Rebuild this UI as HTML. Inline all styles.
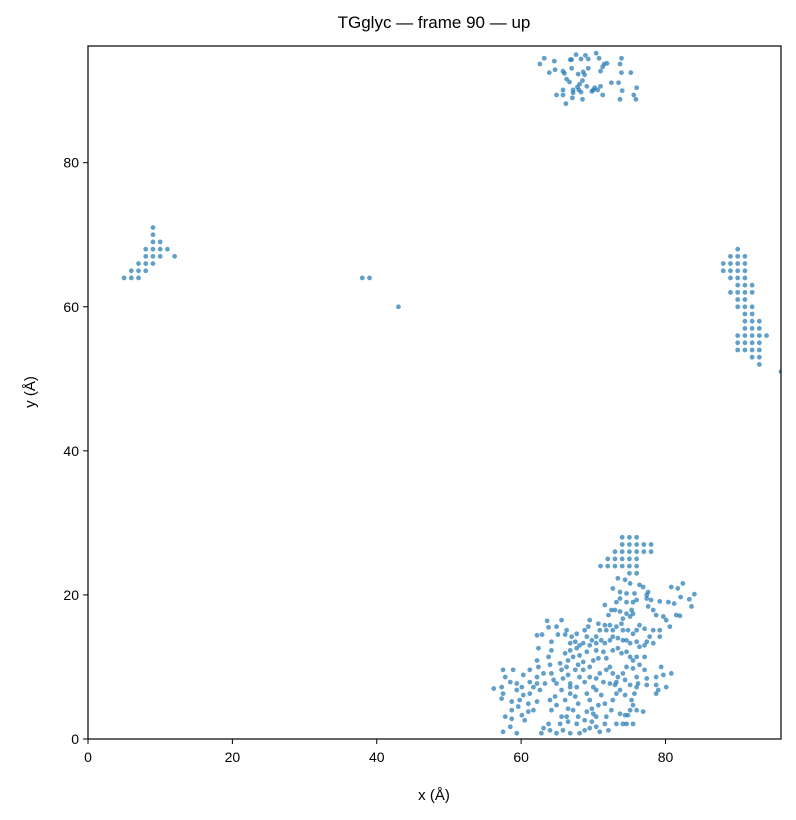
<!DOCTYPE html>
<html><head><meta charset="utf-8"><style>
body{margin:0;background:#fff;}
svg{display:block;font-family:"Liberation Sans","DejaVu Sans",sans-serif;}
</style></head><body>
<svg id="chart" width="796" height="820" xmlns="http://www.w3.org/2000/svg">
<rect width="796" height="820" fill="#fff"/>
<text x="434" y="28" font-size="17" text-anchor="middle">TGglyc — frame 90 — up</text>
<text x="434" y="800" font-size="15" text-anchor="middle">x (Å)</text>
<text transform="translate(35,392) rotate(-90)" font-size="15" text-anchor="middle">y (Å)</text>
<defs><clipPath id="clip"><rect x="88" y="46" width="693" height="693"/></clipPath></defs>
<g id="points" clip-path="url(#clip)"></g>
<g id="axes"></g>
<rect x="88" y="46" width="693" height="693" fill="none" stroke="#000" stroke-width="1.2"/>
</svg>
<script>
const xTicks=[0,20,40,60,80];
const yTicks=[0,20,40,60,80];
const xDomain=[0,96];
const yDomain=[0,96.2];
const leftX=[9,9,9,10,8,9,10,11,8,9,10,12,7,8,9,6,7,8,5,6,7];
const leftY=[71,70,69,69,68,68,68,68,67,67,67,67,66,66,66,65,65,65,64,64,64];
const rightX=[90,89,90,91,88,89,90,91,88,89,90,91,89,90,91,90,91,92,89,90,91,92,90,91,90,91,92,91,92,91,92,93,91,92,93,90,91,92,93,94,90,91,92,93,90,91,92,93,92,93,93,96];
const rightY=[68,67,67,67,66,66,66,66,65,65,65,65,64,64,64,63,63,63,62,62,62,62,61,61,60,60,60,59,59,58,58,58,57,57,57,56,56,56,56,56,55,55,55,55,54,54,54,54,53,53,52,51];
const midX=[38,39,43];
const midY=[64,64,60];
const topX=[63.2,62.6,64.6,63.9,64.7,65.8,66.0,66.8,67.0,67.6,68.3,68.9,69.3,70.4,70.8,71.9,71.5,71.3,71.0,69.3,68.6,68.8,67.9,67.0,66.3,66.7,68.5,68.1,67.8,69.1,68.0,68.3,69.8,70.2,70.6,71.0,72.5,73.5,73.9,75.2,73.9,73.7,74.0,76.0,75.6,75.9,73.7,71.3,68.5,67.2,67.1,65.8,65.8,64.9,66.2,67.2,70.0];
const topY=[94.5,93.7,94.1,92.5,92.9,92.7,92.4,94.3,94.3,95.0,94.4,94.9,94.4,95.2,94.5,93.8,93.7,93.3,92.7,93.1,92.6,92.2,92.3,93.1,91.6,91.2,91.4,90.9,90.5,90.6,90.1,89.8,89.9,90.4,90.1,90.6,91.1,91.1,92.5,92.5,94.5,93.7,90.0,90.4,89.4,88.8,88.8,89.4,88.8,89.7,89.0,90.1,89.4,89.4,88.2,90.1,90.1];
const gridX=[74,75,76,74,75,76,77,78,73,74,75,76,77,78,72,73,74,75,76,71,72,73,74,75,76,75,76];
const gridY=[28,28,28,27,27,27,27,27,26,26,26,26,26,26,25,25,25,25,25,24,24,24,24,24,24,23,23];
const mainX=[73.4,74.4,75.1,72.7,73.7,74.6,75.7,76.4,76.9,77.6,77.4,80.8,81.7,82.4,84.0,83.3,82.1,83.6,79.2,80.4,81.2,73.7,73.2,74.6,75.5,76.0,77.4,78.0,77.6,78.3,78.7,79.7,80.1,81.5,82.0,80.6,79.2,78.3,77.8,77.4,77.1,76.4,76.0,75.5,74.8,74.1,75.3,75.5,75.1,74.6,74.1,73.7,73.0,72.5,72.1,71.6,70.7,71.6,72.3,72.7,73.2,73.9,71.8,70.9,70.4,69.8,69.1,69.3,69.5,68.8,67.7,67.0,66.3,65.6,64.9,63.8,63.6,62.2,62.9,65.1,66.1,66.8,67.5,68.1,68.6,69.5,70.4,71.1,71.6,72.3,72.7,73.4,74.1,74.6,75.1,76.0,76.4,77.1,78.3,79.2,
62.4,64.2,64.2,63.8,62.2,62.4,64.0,64.2,63.1,62.2,61.2,60.3,58.9,57.5,57.8,58.5,59.4,61.2,62.2,63.3,64.5,65.4,65.6,66.3,66.5,66.1,66.8,67.7,67.2,68.1,69.1,68.6,67.9,67.5,66.5,65.8,64.9,66.8,67.7,68.6,69.5,70.0,70.7,70.4,71.4,71.8,72.7,73.4,73.9,74.6,75.1,75.5,76.0,77.1,76.4,77.1,77.4,76.0,75.5,74.6,74.1,73.4,72.7,72.3,71.8,70.9,70.4,69.5,68.8,68.1,71.4,72.3,73.2,74.4,75.1,76.2,77.4,78.7,79.7,80.8,79.4,78.7,80.1,
56.2,57.3,57.5,57.3,58.7,59.4,60.1,59.8,60.3,61.2,61.7,62.6,62.2,61.0,61.7,61.0,59.6,58.7,57.8,58.7,60.1,60.5,58.5,57.5,59.4,62.8,63.1,63.8,64.2,64.0,64.7,64.9,66.1,66.8,65.6,66.8,67.5,67.9,67.2,66.5,66.3,65.6,65.4,66.5,65.8,66.8,67.7,67.9,68.8,69.1,69.8,69.5,69.1,70.0,70.4,71.1,71.6,70.7,70.0,69.8,69.5,70.4,70.4,70.9,71.6,72.1,71.8,72.5,72.7,73.2,73.7,73.0,74.4,75.3,75.5,75.1,74.8,74.4,73.7,73.2,74.1,74.6,75.5,76.0,76.9,75.7,76.0,78.7,79.0,68.8,68.1,64.9,64.0];
const mainY=[22.3,22.1,21.6,20.9,20.4,20.2,20.2,21.4,21.1,20.4,20.0,21.1,20.9,21.6,20.1,19.4,19.7,18.4,19.1,19.0,18.8,19.5,19.0,19.0,19.0,19.3,19.5,19.3,18.4,17.9,17.2,17.0,16.5,17.2,17.1,15.6,15.1,15.1,14.2,13.5,15.3,15.8,15.1,14.6,15.1,15.1,17.9,17.4,17.0,17.4,16.7,17.7,17.9,17.9,17.2,18.6,16.0,15.8,15.8,15.1,15.6,16.0,15.1,15.1,14.2,13.7,14.2,15.6,16.5,15.1,14.6,14.2,15.1,16.5,15.6,15.5,16.4,14.4,14.5,14.5,14.5,13.3,13.5,13.0,13.3,13.0,13.3,13.7,13.3,13.7,14.2,14.0,13.7,13.7,13.3,13.5,12.8,13.0,13.3,14.2,
12.6,13.5,12.3,11.4,10.9,10.0,10.3,9.1,9.1,8.6,9.6,8.9,9.6,9.6,8.6,7.9,7.7,7.9,7.7,7.7,8.2,10.5,9.6,10.0,10.9,11.9,12.3,12.6,11.4,11.6,12.1,10.7,10.3,9.6,8.9,8.4,7.7,7.7,7.2,9.6,10.0,10.9,11.2,12.3,12.1,11.2,12.3,12.6,11.9,12.1,11.4,10.9,11.4,11.4,10.3,9.6,8.4,8.6,9.8,10.0,9.1,8.6,9.1,10.0,9.6,9.1,8.4,8.6,7.9,8.6,7.9,7.7,7.9,8.2,7.5,7.7,7.5,8.6,8.9,9.1,10.0,7.5,7.2,
7.0,7.2,6.3,5.6,5.2,6.8,7.2,5.4,6.1,6.3,7.2,6.8,5.2,4.9,4.0,3.8,4.5,4.0,3.1,2.8,3.3,2.6,1.7,1.0,0.8,0.8,1.5,2.1,4.0,5.4,5.9,4.7,5.4,6.3,6.8,7.2,5.9,4.9,4.0,4.2,3.1,3.1,2.1,2.4,1.2,0.8,2.1,3.1,2.6,3.8,4.2,5.4,6.3,7.2,6.8,6.1,4.9,4.7,3.5,2.4,1.5,3.1,1.7,1.0,2.1,1.2,3.1,4.0,5.4,6.3,6.8,7.5,6.1,5.4,4.7,4.0,3.3,3.3,3.5,2.1,2.1,2.1,2.1,4.0,3.8,6.3,7.2,6.3,6.8,1.2,0.8,0.8,1.2];

const X0=88,X1=781,Y0=739,Y1=46;
function sx(v){return X0+(v-xDomain[0])/(xDomain[1]-xDomain[0])*(X1-X0);}
function sy(v){return Y0-(v-yDomain[0])/(yDomain[1]-yDomain[0])*(Y0-Y1);}
const NS='http://www.w3.org/2000/svg';
const pg=document.getElementById('points');
function draw(xs,ys,name){
  for(let i=0;i<xs.length;i++){
    const c=document.createElementNS(NS,'circle');
    c.setAttribute('cx',sx(xs[i]).toFixed(2));
    c.setAttribute('cy',sy(ys[i]).toFixed(2));
    c.setAttribute('r','2.4');
    c.setAttribute('fill','#1f77b4');
    c.setAttribute('fill-opacity','0.7');
    
    
    pg.appendChild(c);
  }
}
draw(leftX,leftY,'point-left-cluster');
draw(rightX,rightY,'point-right-cluster');
draw(midX,midY,'point-middle');
draw(topX,topY,'point-top-cluster');
draw(gridX,gridY,'point-grid-cluster');
draw(mainX,mainY,'point-main-cluster');
const ax=document.getElementById('axes');
xTicks.forEach(t=>{
  const x=sx(t);
  const l=document.createElementNS(NS,'line');
  l.setAttribute('x1',x);l.setAttribute('x2',x);l.setAttribute('y1',Y0);l.setAttribute('y2',Y0+5);
  l.setAttribute('stroke','#000');
  
  
  ax.appendChild(l);
  const tx=document.createElementNS(NS,'text');
  tx.setAttribute('x',x);tx.setAttribute('y',Y0+23);tx.setAttribute('font-size','14');tx.setAttribute('text-anchor','middle');
  tx.textContent=t;
  
  
  ax.appendChild(tx);
});
yTicks.forEach(t=>{
  const y=sy(t);
  const l=document.createElementNS(NS,'line');
  l.setAttribute('x1',X0-5);l.setAttribute('x2',X0);l.setAttribute('y1',y);l.setAttribute('y2',y);
  l.setAttribute('stroke','#000');
  
  
  ax.appendChild(l);
  const tx=document.createElementNS(NS,'text');
  tx.setAttribute('x',X0-9);tx.setAttribute('y',y+5);tx.setAttribute('font-size','14');tx.setAttribute('text-anchor','end');
  tx.textContent=t;
  
  
  ax.appendChild(tx);
});
</script>
</body></html>
